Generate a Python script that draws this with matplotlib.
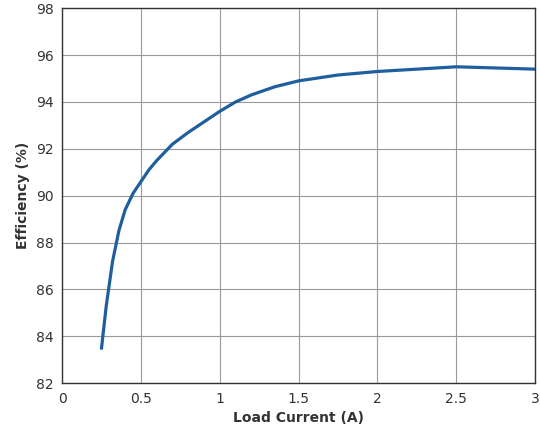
import matplotlib
matplotlib.use("Agg")
import matplotlib.pyplot as plt
import numpy as np

load_current = [0.25, 0.28, 0.32, 0.36, 0.40, 0.45, 0.50, 0.55, 0.60, 0.70, 0.80, 0.90, 1.00, 1.10, 1.20, 1.35, 1.50, 1.75, 2.00, 2.25, 2.50, 2.75, 3.00]
efficiency = [83.5, 85.3, 87.2, 88.5, 89.4, 90.1, 90.6, 91.1, 91.5, 92.2, 92.7, 93.15, 93.6, 94.0, 94.3, 94.65, 94.9, 95.15, 95.3, 95.4, 95.5, 95.45, 95.4]
x_ticks = [0, 0.5, 1, 1.5, 2, 2.5, 3]
x_labels = ["0", "0.5", "1", "1.5", "2", "2.5", "3"]
y_ticks = [82, 84, 86, 88, 90, 92, 94, 96, 98]

fig = plt.figure(figsize=(5.4, 4.32), dpi=100)
ax = fig.add_axes([0.115, 0.113, 0.876, 0.868])
ax.plot(load_current, efficiency, color="#1f5f9e", lw=2.3)
ax.set_xlim(0, 3)
ax.set_ylim(82, 98)
ax.set_xticks(x_ticks)
ax.set_xticklabels(x_labels)
ax.set_yticks(y_ticks)
ax.grid(True, color="#999999", lw=0.8)
for s in ax.spines.values():
    s.set_color("#333333")
    s.set_linewidth(1.0)
ax.tick_params(length=0, labelsize=10, colors="#333333", pad=6)
ax.set_xlabel("Load Current (A)", fontsize=10, fontweight="bold", color="#333333")
ax.set_ylabel("Efficiency (%)", fontsize=10, fontweight="bold", color="#333333")
fig.savefig("out.png", dpi=100)
